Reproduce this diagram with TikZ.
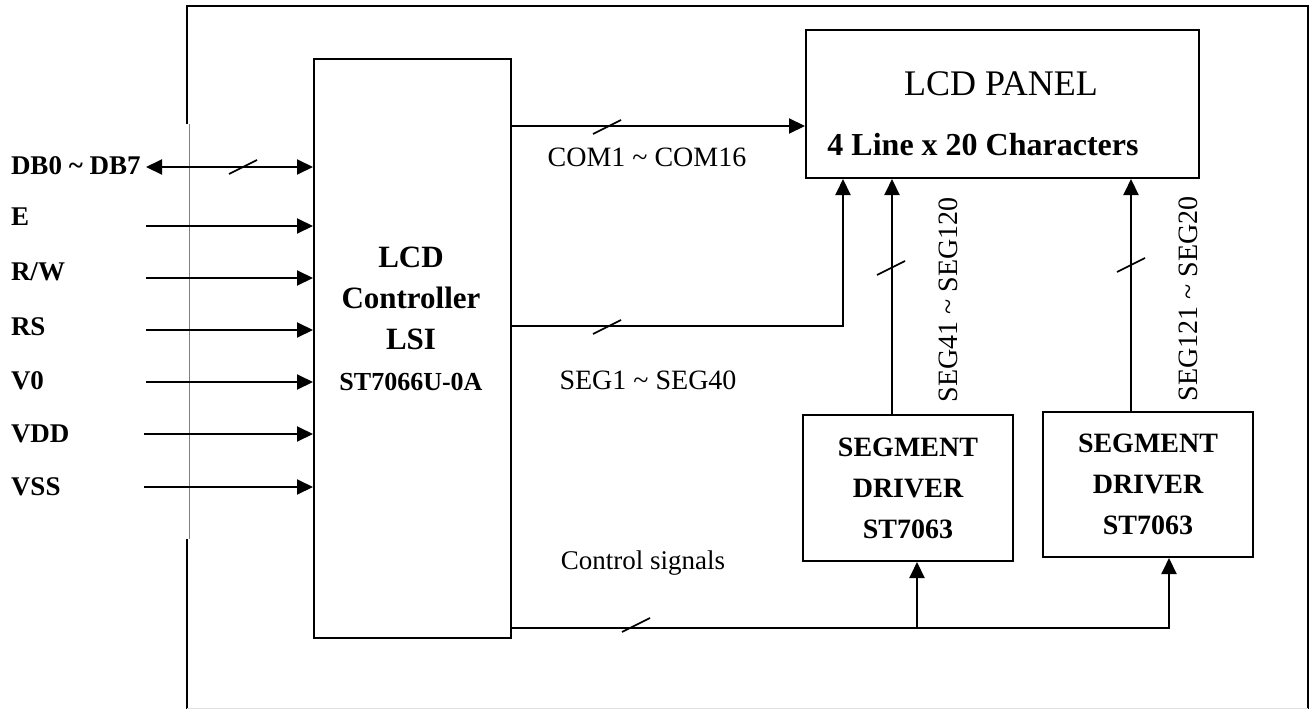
\documentclass[tikz,border=0pt]{standalone}
\usepackage{fontspec}
\setmainfont{Liberation Serif}
\usetikzlibrary{arrows.meta,calc}
\begin{document}
\begin{tikzpicture}[x=1pt,y=-1pt, line width=2pt,
  arr/.style={-{Triangle[length=16pt,width=15pt]}},
  dblarr/.style={{Triangle[length=16pt,width=15pt]}-{Triangle[length=16pt,width=15pt]}},
  box/.style={draw, line width=2pt, inner sep=0pt, anchor=north west},
  slash/.style={line width=1.7pt},
  sig/.style={font=\fontsize{28}{28}\selectfont, inner sep=0pt},
  pin/.style={font=\bfseries\fontsize{27}{27}\selectfont, anchor=west, inner sep=0pt},
  drvtext/.style={align=center, font=\bfseries\fontsize{28}{41}\selectfont}]
\useasboundingbox (0,0) rectangle (1316,709);

% outer frame
\draw (187,124) -- (187,6) -- (1308,6) -- (1308,709);
\draw (187,539) -- (187,709);
\draw[gray, line width=0.9pt] (189,124) -- (189,539);
\draw[black!12, line width=1pt] (187,708) -- (1308,708);

% blocks
\node[box, minimum width=197pt, minimum height=579pt] (ctrl) at (313,58) {};
\node[align=center, font=\bfseries\fontsize{31}{41}\selectfont, inner sep=0pt] (ctrltxt) at (411,319)
  {LCD\\Controller\\LSI\\{\fontsize{26}{41}\selectfont ST7066U-0A}};
\node[box, minimum width=393pt, minimum height=148pt] (panel) at (805,29) {};
\node[font=\fontsize{36}{36}\selectfont, inner sep=0pt] (paneltitle) at (1001,84) {LCD PANEL};
\node[font=\bfseries\fontsize{32}{32}\selectfont, inner sep=0pt] (panelsub) at (983,145) {4 Line x 20 Characters};
\node[box, minimum width=210pt, minimum height=146pt, drvtext] (drv1) at (802,414) {SEGMENT\\DRIVER\\ST7063};
\node[box, minimum width=210pt, minimum height=145pt, drvtext] (drv2) at (1042,411) {SEGMENT\\DRIVER\\ST7063};

% input pins
\node[pin] (lDB) at (10,166) {DB0 \textasciitilde{} DB7};
\node[pin] (lE) at (10,217) {E};
\node[pin] (lRW) at (10,272) {R/W};
\node[pin] (lRS) at (10,327) {RS};
\node[pin] (lV0) at (10,381) {V0};
\node[pin] (lVDD) at (10,434) {VDD};
\node[pin] (lVSS) at (10,487) {VSS};
\coordinate (iDB) at (146,167);
\coordinate (iE) at (146,226);
\coordinate (iRW) at (146,278);
\coordinate (iRS) at (146,330);
\coordinate (iV0) at (146,382);
\coordinate (iVDD) at (144,434);
\coordinate (iVSS) at (144,487);
\draw[dblarr] (iDB) -- (iDB -| ctrl.west);
\foreach \p in {iE,iRW,iRS,iV0,iVDD,iVSS}
  \draw[arr] (\p) -- (\p -| ctrl.west);
\draw[slash] (243,167) ++(-14,7) -- ++(28,-14);

% COM lines
\coordinate (comA) at ([yshift=-68pt]ctrl.north east);
\draw[arr] (comA) -- (comA -| panel.west);
\draw[slash] (607,127) ++(-14,7) -- ++(28,-14);
\node[sig] (comlbl) at (647,157) {COM1 \textasciitilde{} COM16};

% SEG1-40
\coordinate (segA) at ([yshift=-268pt]ctrl.north east);
\coordinate (segB) at ([xshift=38pt]panel.south west);
\draw[arr] (segA) -| (segB);
\draw[slash] (607,327) ++(-14,7) -- ++(28,-14);
\node[sig] (seglbl) at (648,380) {SEG1 \textasciitilde{} SEG40};

% driver outputs
\coordinate (d1top) at ([xshift=90pt]drv1.north west);
\coordinate (d2top) at ([xshift=89pt]drv2.north west);
\draw[arr] (d1top) -- (d1top |- panel.south);
\draw[arr] (d2top) -- (d2top |- panel.south);
\draw[slash] (891,268) ++(-14,7) -- ++(28,-14);
\draw[slash] (1131,265) ++(-14,7) -- ++(28,-14);
\node[sig, rotate=90] (seg2lbl) at (948,300) {SEG41 \textasciitilde{} SEG120};
\node[sig, rotate=90] (seg3lbl) at (1188,299) {SEG121 \textasciitilde{} SEG20};

% control signals
\coordinate (ctlA) at ([yshift=11pt]ctrl.south east);
\coordinate (d1bot) at ([xshift=9pt]drv1.south);
\coordinate (d2bot) at ([xshift=21pt]drv2.south);
\draw[arr] (ctlA) -| (d2bot);
\draw[arr] (ctlA -| d1bot) -- (d1bot);
\draw[slash] (636,625) ++(-14,7) -- ++(28,-14);
\node[sig, font=\fontsize{27}{27}\selectfont] (ctllbl) at (643,563) {Control signals};
\end{tikzpicture}
\end{document}
